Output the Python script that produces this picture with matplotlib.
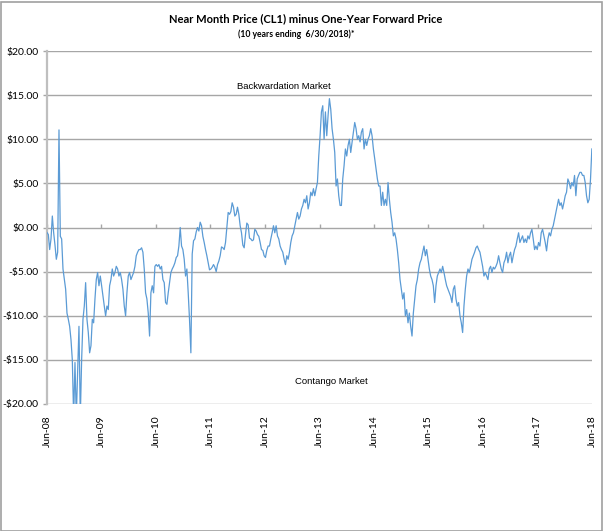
import matplotlib
matplotlib.use("Agg")
import matplotlib.pyplot as plt
import matplotlib.dates as mdates
from matplotlib.patches import Rectangle
import pandas as pd
import numpy as np

# ---- data (evenly spaced samples, Jun-2008 .. Jun-2018) ----
start_date = "2008-06-30"
end_date = "2018-06-29"

seg_2008_2010 = [
    -0.57, -0.8, -2.5, -1.3, 1.3, -0.6, -2.0, -3.6, -2.8, 11.06,
    -1.0, -1.3, -4.7, -5.9, -7.0, -9.7, -10.4, -11.2, -12.7, -15.0,
    -21.5, -15.3, -21.5, -16.5, -11.2, -21.5, -15.0, -10.4, -8.9, -6.25,
    -10.4, -11.9, -14.2, -13.4, -10.4, -10.8, -8.1, -5.9, -5.1, -6.6,
    -5.5, -6.6, -7.8, -8.9, -10.0, -8.9, -9.3, -6.6, -5.9, -4.7,
    -5.5, -5.1, -4.4, -4.7, -5.5, -5.1, -5.9, -7.0, -8.9, -10.0,
    -7.4, -5.5, -5.1, -5.9, -5.5, -5.1, -4.4, -3.2, -2.8, -2.5,
    -2.5, -2.3, -2.8, -4.7, -7.4, -8.1, -9.7, -12.3, -7.4, -6.6,
    -7.4, -4.4, -4.2, -4.4,
]
seg_2010_2012 = [
    -4.2, -4.7, -4.4, -5.9, -6.25, -8.5, -8.7, -7.4, -6.25, -5.1,
    -4.7, -4.4, -4.0, -3.4, -3.2, -2.1, 0.0, -2.1, -2.5, -3.6,
    -5.5, -4.7, -7.4, -10.5, -14.2, -3.0, -1.5, -1.3, -0.5, 0.0,
    -0.4, 0.6, 0.2, -1.0, -1.7, -2.5, -3.2, -4.0, -4.8, -4.7,
    -4.5, -4.2, -4.5, -5.0, -4.2, -3.8, -3.2, -2.2, -2.3, -2.5,
    -1.7, 0.0, 1.7, 1.5, 1.8, 2.8, 2.3, 1.3, 1.5, 2.3,
    1.5, 0.2, -0.6, -2.0, -2.3, -0.8, 0.5, 0.3, -1.2, -1.3,
    -1.5, -1.4, -0.2, -0.4, -0.8, -1.0, -1.7, -2.5, -2.6, -3.2,
    -3.4, -2.6, -2.1,
]
seg_2012_2014 = [
    -2.1, -1.3, -0.6, 0.2, -0.6, 0.2, -0.95, -1.3, -2.1, -2.5,
    -2.8, -3.6, -4.2, -3.2, -3.6, -2.8, -1.7, -0.95, -0.6, 0.2,
    0.95, 1.7, 0.95, 1.3, 2.1, 2.5, 3.2, 2.8, 3.6, 2.1,
    2.8, 4.0, 3.6, 4.4, 3.6, 4.4, 5.1, 8.1, 10.4, 13.1,
    13.8, 10.0, 13.1, 10.4, 12.7, 14.6, 13.4, 11.2, 10.0, 8.5,
    4.7, 5.5, 3.6, 2.5, 2.5, 5.5, 7.0, 8.9, 8.1, 9.3,
    10.0, 8.5, 9.7, 10.8, 11.9, 11.2, 10.0, 10.4, 9.7, 10.8,
    11.2, 8.9, 10.0, 9.3, 10.0, 10.4, 11.2, 10.4, 8.9, 7.8,
    6.6, 5.5, 4.7,
]
seg_2014_2016 = [
    4.7, 2.5, 4.0, 2.5, 3.2, 2.5, 5.1, 3.2, 1.7, 0.6,
    -0.95, -0.6, -1.3, -2.5, -4.0, -5.9, -7.0, -8.1, -7.4, -10.0,
    -9.3, -10.8, -9.7, -11.2, -12.3, -9.7, -8.1, -6.6, -5.9, -4.7,
    -4.0, -3.6, -2.8, -2.1, -3.2, -2.5, -3.6, -4.7, -5.5, -5.9,
    -6.6, -8.5, -6.6, -5.5, -5.1, -4.7, -5.1, -4.4, -5.1, -5.9,
    -6.6, -7.0, -7.4, -7.8, -8.5, -7.0, -6.6, -8.1, -8.9, -8.5,
    -10.0, -10.8, -11.9, -8.9, -7.0, -5.5, -4.7, -5.1, -4.4, -3.6,
    -3.2, -2.8, -2.3, -2.1, -2.5, -2.8, -3.6, -4.4, -5.5, -5.1,
    -5.5, -5.9, -4.7,
]
seg_2016_2018 = [
    -4.4, -5.1, -4.5, -4.7, -4.4, -4.0, -3.2, -4.0, -4.7, -5.1,
    -4.0, -3.6, -2.8, -4.0, -3.2, -2.8, -4.0, -3.2, -2.5, -2.1,
    -1.3, -0.6, -1.7, -1.3, -0.95, -1.7, -1.3, -1.7, -0.95, -1.3,
    -0.6, -0.2, -1.3, -2.5, -2.1, -2.5, -1.7, -2.1, -0.6, -0.2,
    -0.95, -1.7, -2.65, -1.3, -0.6, -0.95, -0.2, 0.2, 0.95, 1.7,
    2.5, 3.2, 2.5, 2.8, 2.1, 2.8, 3.6, 4.0, 5.5, 5.1,
    4.4, 5.1, 4.7, 5.9, 3.6, 5.5, 5.9, 6.25, 6.25, 5.9,
    5.9, 5.1, 3.6, 2.8, 3.2, 5.5, 8.9,
]

y_ticks = [20, 15, 10, 5, 0, -5, -10, -15, -20]
x_tick_labels = ["Jun-08", "Jun-09", "Jun-10", "Jun-11", "Jun-12", "Jun-13",
                 "Jun-14", "Jun-15", "Jun-16", "Jun-17", "Jun-18"]

title = "Near Month Price (CL1) minus One-Year Forward Price"
subtitle = "(10 years ending  6/30/2018)*"
label_top = "Backwardation Market"
label_bottom = "Contango Market"

# ---- build ----
values = seg_2008_2010 + seg_2010_2012 + seg_2012_2014 + seg_2014_2016 + seg_2016_2018
dates = pd.date_range(start_date, end_date, periods=len(values))
tick_dates = pd.date_range(start_date, periods=len(x_tick_labels), freq=pd.DateOffset(years=1))

W, H = 603, 531
fig = plt.figure(figsize=(W / 100, H / 100), dpi=100)
fig.patch.set_facecolor("white")

ax = fig.add_axes([47 / W, 1 - 404 / H, (592 - 47) / W, (404 - 51) / H])

grid_c = "#A6A6A6"
for v in y_ticks:
    ax.axhline(v, color=grid_c, lw=1.0, zorder=1)

ax.plot(dates, values, color="#5B9BD5", lw=0.9, zorder=3, clip_on=True)

ax.set_ylim(-20, 20)
ax.set_xlim(tick_dates[0], tick_dates[-1])

# x axis crosses at zero: small upward tick marks
ax.vlines(tick_dates, 0, 0.35, color=grid_c, lw=1.0, zorder=2)

ax.set_yticks(y_ticks)
ax.set_yticklabels([("-$%.2f" % abs(v)) if v < 0 else ("$%.2f" % v) for v in y_ticks])
ax.set_xticks(tick_dates)
ax.set_xticklabels(x_tick_labels, rotation=90)

for s in ["top", "right", "bottom"]:
    ax.spines[s].set_visible(False)
ax.spines["left"].set_color("#BFBFBF")
ax.spines["left"].set_linewidth(1.6)

font = "Lato"
ax.tick_params(axis="y", length=3, color=grid_c, width=1.0, pad=3,
               labelsize=7.5, labelcolor="#000000")
ax.tick_params(axis="x", length=0, pad=8, labelsize=7.5, labelcolor="#000000")
for lab in ax.get_xticklabels() + ax.get_yticklabels():
    lab.set_family(font)
ax.set_facecolor("white")

fig.text(306 / W, 1 - 19 / H, title, ha="center", va="center",
         fontsize=8.0, fontweight="bold", family=font)
fig.text(296 / W, 1 - 34 / H, subtitle, ha="center", va="center",
         fontsize=6.2, fontweight="bold", family=font)

fig.text(284 / W, 1 - 87 / H, label_top, ha="center", va="center",
         fontsize=6.8, family="Liberation Sans")
fig.text(331 / W, 1 - 381 / H, label_bottom, ha="center", va="center",
         fontsize=6.8, family="Liberation Sans")

fig.patches.append(Rectangle((0.5 / W, 0.5 / H), (W - 2) / W, (H - 2) / H,
                             transform=fig.transFigure, fill=False,
                             edgecolor="#A0A0A0", lw=1.2))

fig.savefig("out.png", dpi=100)
